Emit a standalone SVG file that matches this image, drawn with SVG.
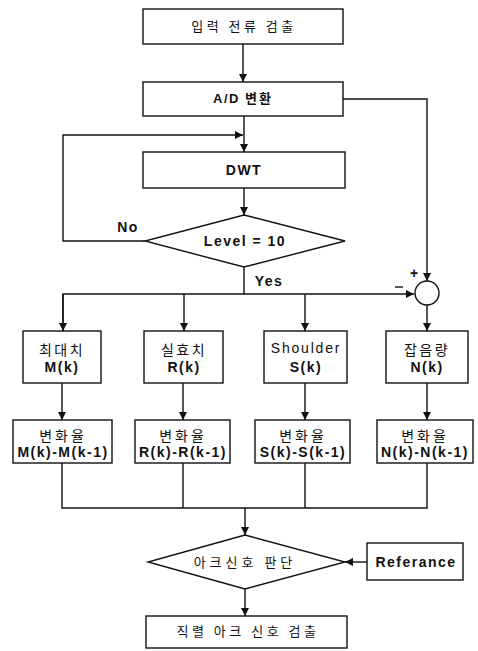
<svg xmlns="http://www.w3.org/2000/svg" width="478" height="651" viewBox="0 0 478 651">
<style>
.box{fill:#fff;stroke:#111;stroke-width:1.4}
.ln{fill:none;stroke:#111;stroke-width:1.4}
.ko{font-family:"Noto Sans CJK KR","Noto Sans",sans-serif;font-size:13px;fill:#111;text-anchor:middle;letter-spacing:2px}
.en{font-family:"Liberation Sans",Arial,sans-serif;font-size:14px;font-weight:bold;fill:#111;text-anchor:middle;letter-spacing:1.5px}
.enr{font-family:"Liberation Sans",Arial,sans-serif;font-size:14px;fill:#111;text-anchor:middle;letter-spacing:1.8px}
</style>
<defs>
<marker id="ah" viewBox="0 0 10 10" refX="10" refY="5" markerWidth="8" markerHeight="8" markerUnits="userSpaceOnUse" orient="auto">
<path d="M0,0 L10,5 L0,10 z" fill="#111"/>
</marker>
</defs>
<rect width="478" height="651" fill="#fff"/>
<g id="connectors">
<path class="ln" d="M243,44 V82" marker-end="url(#ah)"/>
<path class="ln" d="M244,116 V152" marker-end="url(#ah)"/>
<path class="ln" d="M145,241 H63 V135 H243" marker-end="url(#ah)"/>
<path class="ln" d="M244,188 V215" marker-end="url(#ah)"/>
<path class="ln" d="M244,267 V294"/>
<path class="ln" d="M63,331 V294 H414" marker-end="url(#ah)"/>
<path class="ln" d="M63,294 V331" marker-end="url(#ah)"/>
<path class="ln" d="M184,294 V331" marker-end="url(#ah)"/>
<path class="ln" d="M305,294 V331" marker-end="url(#ah)"/>
<path class="ln" d="M343,99 H427 V281" marker-end="url(#ah)"/>
<path class="ln" d="M427,305 V331" marker-end="url(#ah)"/>
<path class="ln" d="M62,383 V420" marker-end="url(#ah)"/>
<path class="ln" d="M183,383 V420" marker-end="url(#ah)"/>
<path class="ln" d="M305,383 V420" marker-end="url(#ah)"/>
<path class="ln" d="M427,383 V420" marker-end="url(#ah)"/>
<path class="ln" d="M62,463 V508 H427 V463 M183,463 V508 M305,463 V508"/>
<path class="ln" d="M245,508 V535" marker-end="url(#ah)"/>
<path class="ln" d="M367,562 H345" marker-end="url(#ah)"/>
<path class="ln" d="M245,589 V616" marker-end="url(#ah)"/>
<text class="en" x="128" y="232">No</text>
<text class="en" x="269" y="286">Yes</text>
<text class="en" x="414" y="278" style="letter-spacing:0">+</text>
<path class="ln" d="M395,287 H403"/>
</g>
<g id="n1"><rect class="box" x="143" y="9" width="200" height="35"/><text class="ko" x="244" y="31" style="letter-spacing:3.5px">입력 전류 검출</text></g>
<g id="n2"><rect class="box" x="143" y="82" width="200" height="34"/><text class="en" x="243" y="103" style="font-size:13px">A/D <tspan class="ko" style="font-size:13px">변환</tspan></text></g>
<g id="n3"><rect class="box" x="143" y="152" width="202" height="36"/><text class="en" x="244" y="175">DWT</text></g>
<g id="n4"><polygon class="box" points="244,215 345,241 244,267 145,241"/><text class="en" x="245" y="246">Level = 10</text></g>
<g id="sum"><circle class="box" cx="427" cy="293" r="12"/></g>
<g id="m"><rect class="box" x="23" y="331" width="78" height="52"/><text class="ko" x="62" y="355" style="font-size:14px;letter-spacing:2.5px">최대치</text><text class="en" x="62" y="372">M(k)</text></g>
<g id="r"><rect class="box" x="144" y="331" width="79" height="52"/><text class="ko" x="184" y="355" style="font-size:14px;letter-spacing:2.5px">실효치</text><text class="en" x="184" y="372">R(k)</text></g>
<g id="s"><rect class="box" x="264" y="331" width="83" height="52"/><text class="enr" x="306" y="353">Shoulder</text><text class="en" x="306" y="372">S(k)</text></g>
<g id="n"><rect class="box" x="386" y="331" width="82" height="52"/><text class="ko" x="427" y="355" style="font-size:14px;letter-spacing:2.5px">잡음량</text><text class="en" x="427" y="372">N(k)</text></g>
<g id="dm"><rect class="box" x="13" y="420" width="99" height="43"/><text class="ko" x="63" y="441" style="font-size:14px;letter-spacing:3px">변화율</text><text class="en" x="63" y="457">M(k)-M(k-1)</text></g>
<g id="dr"><rect class="box" x="135" y="420" width="95" height="43"/><text class="ko" x="183" y="441" style="font-size:14px;letter-spacing:3px">변화율</text><text class="en" x="183" y="457">R(k)-R(k-1)</text></g>
<g id="ds"><rect class="box" x="255" y="420" width="95" height="43"/><text class="ko" x="303" y="441" style="font-size:14px;letter-spacing:3px">변화율</text><text class="en" x="303" y="457">S(k)-S(k-1)</text></g>
<g id="dn"><rect class="box" x="377" y="420" width="96" height="43"/><text class="ko" x="425" y="441" style="font-size:14px;letter-spacing:3px">변화율</text><text class="en" x="425" y="457">N(k)-N(k-1)</text></g>
<g id="arc"><polygon class="box" points="245,535 345,562 245,589 148,562"/><text class="ko" x="245" y="567" style="letter-spacing:4px">아크신호 판단</text></g>
<g id="ref"><rect class="box" x="367" y="543" width="96" height="37"/><text class="en" x="416" y="567">Referance</text></g>
<g id="out"><rect class="box" x="146" y="616" width="201" height="32"/><text class="ko" x="248" y="636" style="letter-spacing:3.5px">직렬 아크 신호 검출</text></g>
</svg>
